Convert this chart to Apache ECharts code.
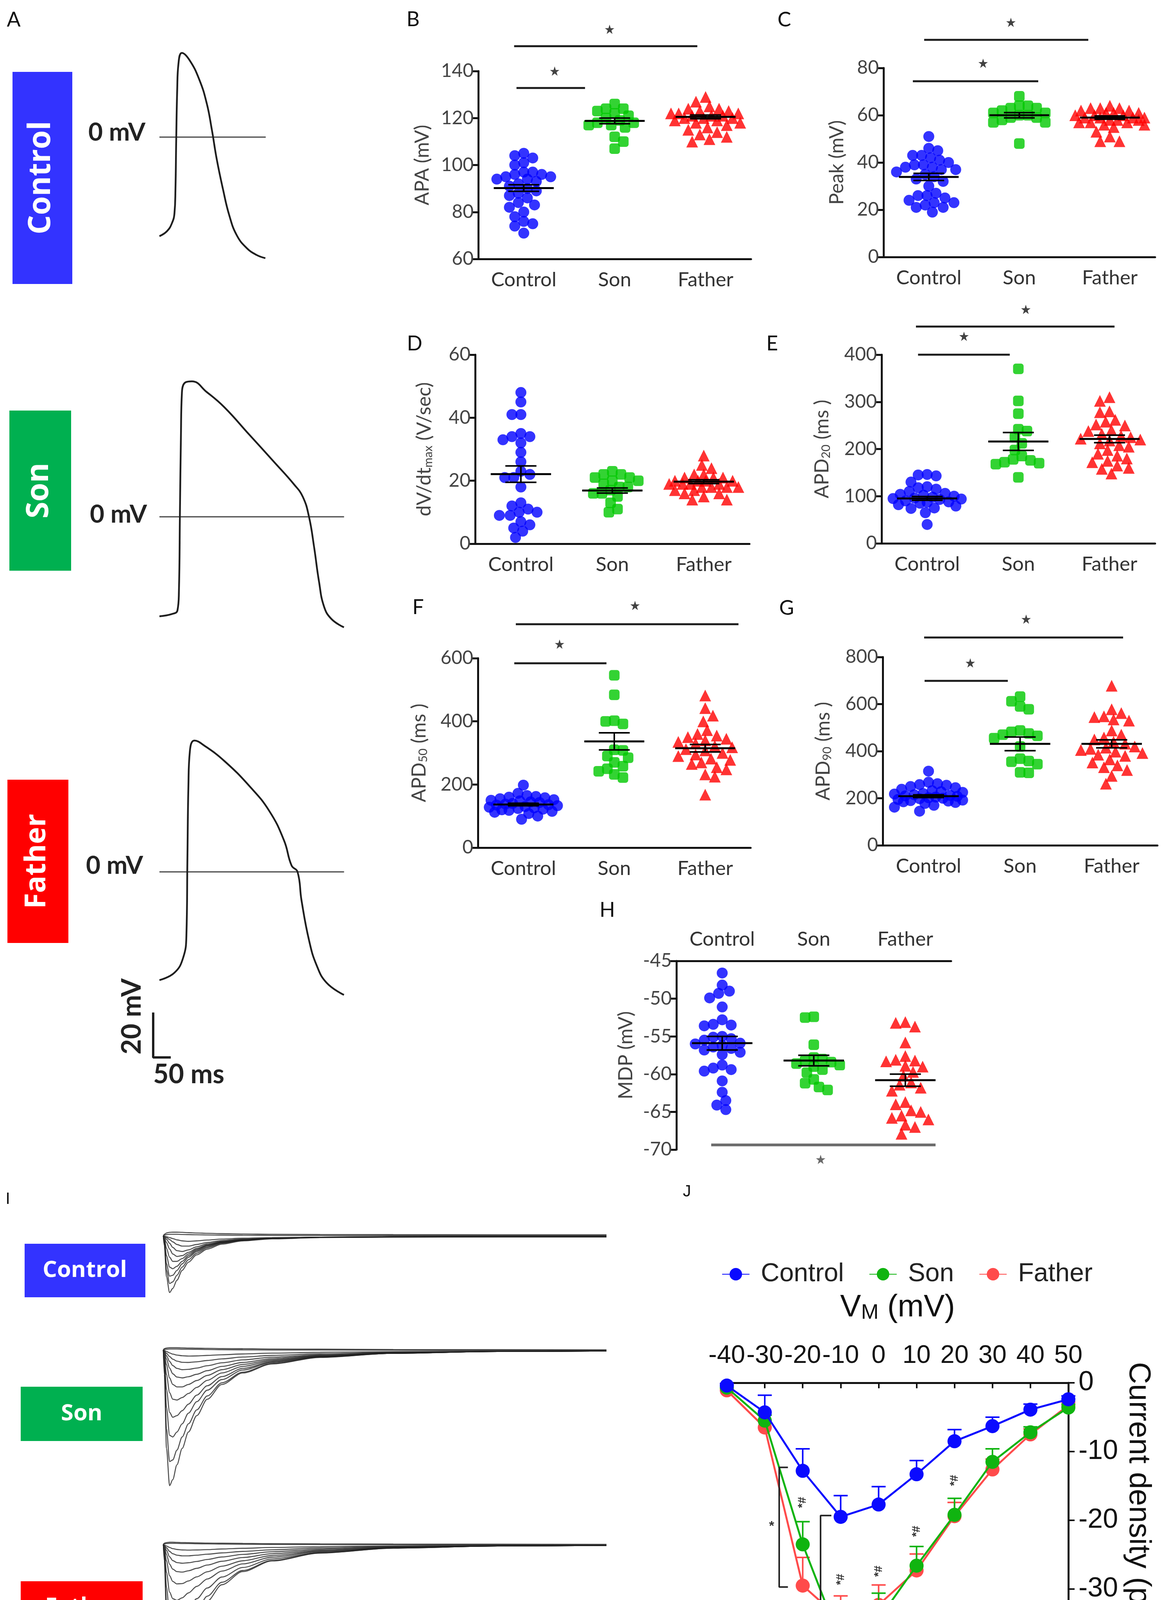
<!DOCTYPE html>
<html><head><meta charset="utf-8">
<script src="https://cdn.jsdelivr.net/npm/echarts@6/dist/echarts.min.js"></script>
<style>html,body{margin:0;padding:0;background:#fff}#c{width:2989px;height:4467px}</style>
</head><body><div id="c"></div><script>
// ---------------- DATA ----------------
const groups = ['Control', 'Son', 'Father'];
// B: APA (mV)
const apaControl = [105,104,103,101,100,97,97,96,96,95,95,94,94,93,92,91,90,89,88,87,86,84,83,82,80,78,76,75,74,71];
const apaSon = [126,124,124,123,122,121,120,119,118,118,117,117,116,112,110,107];
const apaFather = [129,127,125,124,124,123,123,122,122,122,121,121,121,120,120,120,119,119,118,118,117,116,115,114,113,112,111,110];
const apaMean = [90.2,118.8,120.5]; const apaSem = [1.4,1.2,0.8];
// C: Peak (mV)
const peakControl = [51,46,45,43,43,42,41,40,39,39,38,38,37,37,36,35,34,33,32,30,27,26,26,25,24,23,23,22,21,21,19];
const peakSon = [68,64,64,63,63,62,61,61,60,60,59,59,58,57,57,48];
const peakFather = [64,63,63,63,62,62,61,61,61,60,60,60,59,59,59,59,58,58,58,57,57,57,56,56,55,53,51,49,49];
const peakMean = [33.9,60.0,59.0]; const peakSem = [1.5,1.1,0.7];
// D: dV/dt max (V/sec)
const dvdtControl = [48,45,41,41,35,34,34,33,32,29,26,23,22,21,21,18,13,12,11,10,10,9,9,7,6,5,4,2];
const dvdtSon = [23,22,22,21,21,20,20,19,18,18,17,16,16,15,13,11,10];
const dvdtFather = [28,25,24,22,22,21,21,21,20,20,20,20,19,19,19,19,18,18,18,18,17,17,16,16,15,14,14];
const dvdtMean = [22.1,16.9,19.7]; const dvdtSem = [2.6,0.8,0.6];
// E: APD20 (ms)
const apd20Control = [146,145,143,130,120,118,115,110,106,104,102,100,98,96,95,94,93,90,88,87,85,82,79,75,74,65,40];
const apd20Son = [370,302,275,242,238,225,212,198,185,178,176,172,170,168,140];
const apd20Father = [310,302,280,278,262,258,252,250,240,238,232,228,225,222,220,218,212,208,205,198,190,186,180,175,172,165,160,158,148];
const apd20Mean = [95.3,216,221.4]; const apd20Sem = [4,19,8];
// F: APD50 (ms)
const apd50Control = [198,172,165,162,160,158,155,152,150,148,145,143,140,138,136,135,133,130,128,126,124,122,120,118,115,112,108,100,90];
const apd50Son = [546,484,402,400,392,310,308,290,285,270,258,250,242,232,222];
const apd50Father = [482,442,418,400,372,360,355,350,345,340,335,330,322,318,312,308,300,295,290,282,278,270,265,255,248,232,225,168];
const apd50Mean = [136.6,336.6,315]; const apd50Sem = [4,27,12];
// G: APD90 (ms)
const apd90Control = [315,268,262,258,255,250,245,238,232,228,225,220,218,215,212,210,208,205,202,200,198,195,192,190,188,185,182,178,170,162,145];
const apd90Son = [632,612,590,578,488,482,475,470,465,455,420,368,358,355,345,310,308];
const apd90Father = [678,578,562,548,545,535,530,488,470,458,450,440,432,420,415,410,405,398,392,385,380,365,352,340,332,320,295,262];
const apd90Mean = [208.7,431,431]; const apd90Sem = [6,29,17];
// H: MDP (mV)
const mdpControl = [-46.6,-48.2,-49.0,-49.3,-49.9,-51.1,-52.8,-53.4,-53.5,-53.6,-55.0,-55.1,-55.3,-55.5,-55.9,-56.0,-56.2,-56.4,-56.6,-56.8,-57.1,-57.4,-58.8,-59.2,-59.4,-59.6,-60.9,-62.4,-63.5,-64.1,-64.7];
const mdpSon = [-52.4,-52.5,-56.1,-57.8,-58.0,-58.2,-58.4,-58.6,-58.8,-59.0,-59.4,-59.8,-60.7,-61.2,-61.7,-62.1];
const mdpFather = [-53.1,-53.2,-53.7,-55.8,-57.6,-58.1,-58.2,-58.3,-58.9,-59.0,-59.7,-60.2,-61.1,-61.4,-61.8,-62.2,-63.7,-64.0,-64.8,-65.0,-65.5,-65.8,-66.0,-66.7,-67.0,-67.9];
const mdpMean = [-55.9,-58.2,-60.8]; const mdpSem = [0.9,0.7,0.8];

// A: action potentials (ms, mV)
const apControlT = [0,21.4,35.6,42.7,45.5,47.7,50.5,54.0,63.8,85,113.3,134.6,148.8,162.9,180.7,198.4,219.7,248,276.4,301];
const apControlV = [-44.1,-41.9,-38.3,-33.9,-23.3,-1.1,21.1,32.6,37.5,34.4,25.6,14.9,3.4,-9.9,-23.3,-34.8,-43.7,-49.4,-52.5,-53.9];
const apSonT = [0,35.6,51.2,55.4,58.3,61.1,64,74.6,92.3,134.8,184.4,255.3,326.1,382.9,407.7,425.3,439.6,453.7,467.9,489.1,524.6];
const apSonV = [-44.3,-43.3,-41.7,-33.3,2.2,35.5,55.5,59.9,60.3,55.5,48.8,36.6,24.4,14.4,8.9,0,-13.3,-28.8,-39.9,-45.5,-49.2];
const apFatherT = [0,42.7,67.5,76.7,79.5,82.4,86.6,99.4,127.7,184.4,255.3,312,354.5,375.8,392.7,404,425.3,446.5,474.9,524.6];
const apFatherV = [-48.2,-44.9,-38.2,-28.2,5.0,38.3,53.8,58.5,56.2,49.4,38.3,27.2,13.9,2.8,0,-12.7,-30.4,-41.4,-49.3,-54.8];
const apScaleMV = 20, apScaleMs = 50;

// I: sodium current traces (ms, pA)
const tI = [0,0.5,1.5,3,4.5,6.5,9,12,16,21,28,38,52,75,110,160,212];
const iControl = [
 [0,-60,-250,-345,-320,-270,-210,-160,-115,-80,-50,-30,-18,-10,-6,-4,-3],
 [0,-50,-210,-290,-280,-240,-190,-145,-105,-72,-45,-28,-16,-9,-5,-3,-2],
 [0,-40,-170,-245,-240,-210,-170,-130,-95,-66,-42,-26,-15,-8,-4,-2,-2],
 [0,-30,-120,-190,-200,-185,-155,-120,-88,-60,-40,-25,-15,-8,-5,-3,-3],
 [0,-20,-75,-130,-155,-155,-138,-110,-82,-57,-38,-24,-14,-8,-5,-3,-4],
 [0,-12,-40,-80,-110,-125,-120,-100,-76,-54,-36,-23,-14,-9,-6,-4,-4],
 [0,-6,-20,-45,-70,-90,-95,-85,-66,-48,-33,-22,-14,-9,-6,-5,-5],
 [0,-3,-10,-22,-36,-52,-62,-62,-52,-40,-28,-19,-13,-9,-7,-6,-6],
 [0,-2,-5,-10,-16,-24,-30,-33,-30,-25,-19,-14,-10,-8,-7,-6,-6],
 [0,5,8,10,10,10,9,8,7,6,5,4,3,3,2,2,2],
 [0,10,18,22,23,23,22,20,18,16,14,12,10,9,8,7,7]
];
const iSon = [
 [0,-150,-600,-827,-790,-700,-600,-500,-400,-300,-210,-140,-85,-45,-20,-8,-5],
 [0,-120,-480,-680,-670,-610,-530,-450,-365,-280,-200,-135,-82,-44,-20,-8,-5],
 [0,-90,-350,-520,-530,-500,-450,-385,-315,-245,-180,-122,-76,-42,-20,-9,-5],
 [0,-60,-240,-380,-410,-400,-370,-330,-275,-218,-162,-112,-72,-40,-19,-9,-6],
 [0,-40,-150,-260,-300,-305,-290,-265,-228,-185,-140,-100,-66,-38,-19,-9,-6],
 [0,-25,-90,-170,-210,-225,-225,-210,-186,-155,-120,-88,-60,-36,-18,-9,-6],
 [0,-15,-55,-110,-145,-165,-170,-163,-148,-126,-100,-76,-53,-33,-17,-9,-6],
 [0,-10,-35,-70,-95,-112,-120,-118,-110,-96,-78,-60,-44,-29,-16,-9,-6],
 [0,-6,-20,-40,-56,-68,-75,-76,-72,-64,-54,-43,-33,-23,-14,-8,-6],
 [0,-3,-9,-18,-25,-31,-35,-37,-36,-33,-29,-24,-19,-14,-10,-7,-6],
 [0,3,5,6,6,6,5,5,4,3,2,1,0,0,-1,-2,-3],
 [0,8,12,14,14,14,13,12,11,10,9,8,6,5,3,2,1]
];
const iFather = [
 [0,-100,-450,-740,-814,-760,-660,-560,-450,-345,-245,-165,-100,-52,-22,-9,-5],
 [0,-80,-350,-580,-640,-620,-560,-485,-400,-315,-230,-158,-97,-51,-22,-9,-5],
 [0,-60,-260,-430,-480,-475,-440,-390,-330,-265,-198,-140,-88,-48,-21,-9,-5],
 [0,-40,-170,-290,-330,-340,-325,-295,-255,-210,-162,-118,-77,-43,-20,-9,-5],
 [0,-25,-100,-190,-225,-240,-238,-222,-197,-166,-132,-99,-67,-39,-19,-9,-5],
 [0,-15,-60,-120,-150,-165,-168,-160,-145,-125,-102,-79,-56,-34,-17,-8,-5],
 [0,-10,-35,-75,-98,-110,-114,-111,-103,-91,-76,-60,-44,-28,-15,-8,-5],
 [0,-6,-20,-42,-56,-65,-69,-69,-65,-59,-51,-42,-32,-21,-12,-7,-5],
 [0,-3,-9,-18,-25,-30,-33,-34,-33,-31,-27,-23,-18,-13,-9,-6,-5],
 [0,4,6,7,7,7,6,6,5,4,3,2,1,0,-1,-2,-3],
 [0,8,12,14,14,13,12,11,10,9,8,7,5,4,3,2,1]
];
const iScalePA = 100, iScaleMs = 20;
// voltage protocol (ms, mV)
const protoT = [0,100,100,300,300,500,500,600];
const protoV = [-70,-70,-40,-40,50,50,-70,-70];
const protoSteps = [-40,-34,-29,-23,-17,-12,-6,-1,5,11,16,22,27,33,39,44,50];

// J: I-V relation
const ivV = [-40,-30,-20,-10,0,10,20,30,40,50];
const ivControl = [-0.4,-4.3,-12.8,-19.5,-17.7,-13.3,-8.5,-6.3,-3.9,-2.4];
const ivSon = [-0.7,-5.5,-23.5,-37.7,-34.4,-26.6,-19.2,-11.5,-7.2,-3.6];
const ivFather = [-1.1,-6.5,-29.5,-34.4,-32.3,-27.3,-19.4,-12.6,-7.5,-3.3];
const ivControlErr = [0.3,2.5,3.2,3.1,2.6,2.0,1.7,1.3,0.8,0.5];
const ivSonErr = [0.3,0.8,3.3,4.6,3.8,2.8,2.4,1.9,0.8,0.5];
const ivFatherErr = [0.3,1.0,4.1,3.4,2.9,2.4,2.0,1.5,0.8,0.5];
const ivMarkV = [-20,-10,0,10,20];
const ivMarkI = [-17.4,-28.6,-27.4,-21.6,-14.2];

// ---------------- BUILD ----------------
const grid=[], xAxis=[], yAxis=[], series=[];
const addG = g => (grid.push(g), grid.length-1);
const addX = a => (xAxis.push(a), xAxis.length-1);
const addY = a => (yAxis.push(a), yAxis.length-1);
const GP = 'Lato', AR = 'Liberation Sans';
const colC = '#0000FF', colS = '#00C800', colF = '#FF0000';
const starPath = 'path://M50,0L61.8,35.1L98.5,35.1L68.8,56.8L80.2,91.9L50,70.2L19.8,91.9L31.2,56.8L1.5,35.1L38.2,35.1Z';

function swarm(values, cat, pxY, pxX, D, maxOff){
  const order = values.map((v,i)=>i).sort((a,b)=>values[b]-values[a]);
  const placed=[], out=[]; const step=D*0.2;
  for(const i of order){
    const y=values[i]*pxY; let best=0, bestScore=-1, done=false;
    for(let k=0;k<=Math.ceil(maxOff/step)&&!done;k++){
      const c = k===0?[0]:(placed.length%2?[-k*step,k*step]:[k*step,-k*step]);
      for(const dx of c){
        let m=Infinity; for(const p of placed){const d=Math.hypot(p[0]-dx,p[1]-y); if(d<m)m=d;}
        if(m>=D){best=dx;done=true;break;}
        if(m>bestScore){bestScore=m;best=dx;}
      }
    }
    placed.push([best,y]); out.push([cat+best/pxX, values[i]]);
  }
  return out;
}

const axCol='#111';
const rich = (fs)=>({a:{fontSize:fs,fontFamily:GP,color:'#444'}, s:{fontSize:Math.round(fs*0.62),fontFamily:GP,color:'#444',verticalAlign:'bottom',lineHeight:Math.round(fs*0.55)}});
const panels = [
 {d:[apaControl,apaSon,apaFather], m:apaMean, s:apaSem, b:{left:1224,top:182,width:698,height:481}, min:60,max:140,step:20, name:'{a|APA (mV)}', gap:118,
  sig:[{x:[-0.106,1.909],y:150.6,st:[0.944,157.8]},{x:[-0.08,0.674],y:132.8,st:[0.34,140]}]},
 {d:[peakControl,peakSon,peakFather], m:peakMean, s:peakSem, b:{left:2261,top:174,width:695,height:484}, min:0,max:80,step:20, name:'{a|Peak (mV)}', gap:94,
  sig:[{x:[-0.051,1.762],y:91.9,st:[0.907,99.3]},{x:[-0.176,1.209],y:74.4,st:[0.6,82]}]},
 {d:[dvdtControl,dvdtSon,dvdtFather], m:dvdtMean, s:dvdtSem, b:{left:1216,top:908,width:702,height:484}, min:0,max:60,step:20, name:'{a|dV/dt}{s|max}{a| (V/sec)}', gap:105, sig:[]},
 {d:[apd20Control,apd20Son,apd20Father], m:apd20Mean, s:apd20Sem, b:{left:2256,top:908,width:700,height:483}, min:0,max:400,step:100, name:'{a|APD}{s|20}{a| (ms )}', gap:127,
  sig:[{x:[-0.123,2.055],y:459.6,st:[1.082,496]},{x:[-0.1,0.906],y:400,st:[0.404,439]}]},
 {d:[apd50Control,apd50Son,apd50Father], m:apd50Mean, s:apd50Sem, b:{left:1223,top:1685,width:698,height:485}, min:0,max:600,step:200, name:'{a|APD}{s|50}{a| (ms )}', gap:125,
  sig:[{x:[-0.083,2.366],y:707.6,st:[1.228,767]},{x:[-0.1,0.914],y:584,st:[0.398,644.5]}]},
 {d:[apd90Control,apd90Son,apd90Father], m:apd90Mean, s:apd90Sem, b:{left:2259,top:1682,width:703,height:482}, min:0,max:800,step:200, name:'{a|APD}{s|90}{a| (ms )}', gap:127,
  sig:[{x:[-0.048,2.125],y:883,st:[1.066,961]},{x:[-0.043,0.866],y:698.8,st:[0.456,775]}]},
 {d:[mdpControl,mdpSon,mdpFather], m:mdpMean, s:mdpSem, b:{left:1731,top:2460,width:703,height:483}, min:-70,max:-45,step:5, name:'{a|MDP (mV)}', gap:104, top:true,
  sig:[{x:[-0.12,2.33],y:-69.38,st:[1.075,-71.3],gray:true}]}
];
const sym = [{s:'circle',c:colC,z:28},{s:'roundRect',c:colS,z:27},{s:'triangle',c:colF,z:30}];

panels.forEach((p,pi)=>{
  const g = addG(p.b);
  addX({gridIndex:g, type:'category', data:groups, position:p.top?'top':'bottom',
    axisLine:{onZero:false, lineStyle:{color:axCol,width:5}},
    axisTick:{alignWithLabel:true, length:14, lineStyle:{color:axCol,width:5}},
    axisLabel:{fontFamily:GP, fontSize:51, color:'#333', margin:p.top?30:28}, splitLine:{show:false}});
  const xv = addX({gridIndex:g, type:'value', min:-0.5, max:2.5, show:false});
  const yv = addY({gridIndex:g, type:'value', min:p.min, max:p.max, interval:p.step,
    axisLine:{show:true, onZero:false, lineStyle:{color:axCol,width:5}},
    axisTick:{show:true, length:16, lineStyle:{color:axCol,width:5}},
    axisLabel:{fontFamily:GP, fontSize:48, color:'#444', margin:12, showMinLabel:true, showMaxLabel:true}, splitLine:{show:false},
    name:p.name, nameLocation:'middle', nameGap:p.gap, nameTextStyle:{rich:rich(50)}});
  const pxY = p.b.height/(p.max-p.min), pxX = p.b.width/3;
  p.d.forEach((vals,gi)=>{
    series.push({type:'scatter', name:'p'+pi+groups[gi], xAxisIndex:xv, yAxisIndex:yv, symbol:sym[gi].s, symbolSize:sym[gi].z,
      itemStyle:{color:sym[gi].c}, data:swarm(vals,gi,pxY,pxX,sym[gi].z*0.82,0.37*pxX), z:2, silent:true});
  });
  series.push({type:'custom', xAxisIndex:xv, yAxisIndex:yv, z:5, silent:true,
    data:p.m.map((m,i)=>[i,m,p.s[i]]),
    renderItem:(params,api)=>{
      const c=api.value(0), m=api.value(1), s=api.value(2);
      const L=(x1,y1,x2,y2,w)=>{const a=api.coord([x1,y1]), b=api.coord([x2,y2]); return {type:'line', shape:{x1:a[0],y1:a[1],x2:b[0],y2:b[1]}, style:{stroke:'#000',lineWidth:w}};};
      return {type:'group', children:[L(c-0.33,m,c+0.33,m,5),L(c,m-s,c,m+s,4),L(c-0.17,m+s,c+0.17,m+s,4),L(c-0.17,m-s,c+0.17,m-s,4)]};
    }});
  p.sig.forEach(sg=>{
    series.push({type:'line', xAxisIndex:xv, yAxisIndex:yv, clip:false, silent:true, symbol:'none',
      lineStyle:{color:sg.gray?'#6b6b6b':'#1a1a1a', width:sg.gray?7:5}, data:[[sg.x[0],sg.y],[sg.x[1],sg.y]]});
    series.push({type:'scatter', xAxisIndex:xv, yAxisIndex:yv, clip:false, silent:true, symbol:starPath, symbolSize:24,
      itemStyle:{color:sg.gray?'#444':'#111'}, data:[sg.st]});
  });
});

// A: action potentials
function hiddenPanel(box, xmin, xmax, ymin, ymax){
  const g=addG(box);
  const x=addX({gridIndex:g,type:'value',min:xmin,max:xmax,show:false});
  const y=addY({gridIndex:g,type:'value',min:ymin,max:ymax,show:false});
  return {x,y};
}
const zip=(a,b)=>a.map((t,i)=>[t,b[i]]);
[[apControlT,apControlV,{left:408,top:121,width:272,height:575},302,-60,40],
 [apSonT,apSonV,{left:408,top:920.5,width:472.5,height:747.5},525,-60,70],
 [apFatherT,apFatherV,{left:408,top:1829.5,width:472.5,height:747.5},525,-60,70]].forEach(a=>{
  const ax=hiddenPanel(a[2],0,a[3],a[4],a[5]);
  series.push({type:'line',xAxisIndex:ax.x,yAxisIndex:ax.y,symbol:'none',silent:true,data:[[0,0],[a[3],0]],lineStyle:{color:'#444',width:3}});
  series.push({type:'line',xAxisIndex:ax.x,yAxisIndex:ax.y,symbol:'none',silent:true,clip:false,smooth:0.45,data:zip(a[0],a[1]),lineStyle:{color:'#1e1e1e',width:4.5}});
});
{ const ax=hiddenPanel({left:392,top:2592,width:45,height:115},0,apScaleMs,0,apScaleMV);
  series.push({type:'line',xAxisIndex:ax.x,yAxisIndex:ax.y,symbol:'none',silent:true,clip:false,data:[[0,apScaleMV],[0,0],[apScaleMs,0]],lineStyle:{color:'#1e1e1e',width:6}}); }

// I: current traces
[[iControl,{left:418,top:3130.4,width:1134,height:201.6},-400],
 [iSon,{left:418,top:3422.4,width:1134,height:411.6},-900],
 [iFather,{left:418,top:3920.4,width:1134,height:411.6},-900]].forEach(a=>{
  const ax=hiddenPanel(a[1],0,212,a[2],80);
  a[0].forEach(tr=>series.push({type:'line',xAxisIndex:ax.x,yAxisIndex:ax.y,symbol:'none',silent:true,clip:false,smooth:0.3,smoothMonotone:'x',
    data:zip(tI,tr),lineStyle:{color:'#222',width:2.6,opacity:0.8}}));
});
{ const ax=hiddenPanel({left:378,top:4310,width:107,height:42},0,iScaleMs,0,iScalePA);
  series.push({type:'line',xAxisIndex:ax.x,yAxisIndex:ax.y,symbol:'none',silent:true,clip:false,data:[[0,iScalePA],[0,0],[iScaleMs,0]],lineStyle:{color:'#555',width:3}}); }
{ const ax=hiddenPanel({left:1315,top:4227,width:252,height:203},0,600,-70,50);
  series.push({type:'line',xAxisIndex:ax.x,yAxisIndex:ax.y,symbol:'none',silent:true,clip:false,data:zip(protoT,protoV),lineStyle:{color:'#222',width:5}});
  series.push({type:'custom',xAxisIndex:ax.x,yAxisIndex:ax.y,silent:true,clip:false,data:protoSteps.map(v=>[400,v]),
    renderItem:(p,api)=>{const a=api.coord([300,api.value(1)]), b=api.coord([500,api.value(1)]); return {type:'line',shape:{x1:a[0],y1:a[1],x2:b[0],y2:b[1]},style:{stroke:'#333',lineWidth:3}};}}); }

// J: I-V curve
const gJ = addG({left:1860,top:3540,width:874,height:704});
const xJ = addX({gridIndex:gJ,type:'value',min:-40,max:50,interval:10,position:'top',
  axisLine:{onZero:false,lineStyle:{color:'#111',width:5}}, axisTick:{inside:true,length:14,lineStyle:{color:'#111',width:4}},
  axisLabel:{fontFamily:AR,fontSize:65,color:'#111',margin:36,showMinLabel:true,showMaxLabel:true}, splitLine:{show:false},
  name:'{v|V}{m|M}{v| (mV)}', nameLocation:'middle', nameGap:152,
  nameTextStyle:{rich:{v:{fontFamily:AR,fontSize:80,color:'#111'},m:{fontFamily:AR,fontSize:54,color:'#111',verticalAlign:'bottom',lineHeight:40}}}});
const yJ = addY({gridIndex:gJ,type:'value',min:-40,max:0,interval:10,position:'right',
  axisLine:{show:true,onZero:false,lineStyle:{color:'#111',width:5}}, axisTick:{show:true,length:16,lineStyle:{color:'#111',width:4}},
  axisLabel:{fontFamily:AR,fontSize:70,color:'#111',margin:26,showMinLabel:true,showMaxLabel:true}, splitLine:{show:false},
  name:'Current density (pA/pF)', nameLocation:'middle', nameGap:140, nameRotate:-90,
  nameTextStyle:{fontFamily:AR,fontSize:78,color:'#111'}});
const ivCols = {Control:'#0A0AFF', Son:'#10B410', Father:'#FF4B4B'};
[['Father',ivFather,ivFatherErr],['Son',ivSon,ivSonErr],['Control',ivControl,ivControlErr]].forEach(([n,v,e],k)=>{
  const col=ivCols[n];
  series.push({type:'custom',xAxisIndex:xJ,yAxisIndex:yJ,silent:true,clip:false,z:2+k*2,data:ivV.map((x,i)=>[x,v[i],e[i]]),
    renderItem:(p,api)=>{const a=api.coord([api.value(0),api.value(1)]), b=api.coord([api.value(0),api.value(1)+api.value(2)]);
      return {type:'group',children:[{type:'line',shape:{x1:a[0],y1:a[1],x2:b[0],y2:b[1]},style:{stroke:col,lineWidth:4}},
        {type:'line',shape:{x1:b[0]-18,y1:b[1],x2:b[0]+18,y2:b[1]},style:{stroke:col,lineWidth:4}}]};}});
  series.push({type:'line',name:n,xAxisIndex:xJ,yAxisIndex:yJ,clip:false,z:3+k*2,symbol:'circle',symbolSize:36,
    data:zip(ivV,v),lineStyle:{color:col,width:5},itemStyle:{color:col}});
});
// brackets and significance marks in J
const bracket = (xi,xo,y1,y2)=>({type:'line',xAxisIndex:xJ,yAxisIndex:yJ,clip:false,silent:true,symbol:'none',z:10,
  data:[[xi,y1],[xo,y1],[xo,y2],[xi,y2]],lineStyle:{color:'#222',width:4}});
series.push(bracket(-23.9,-26.2,-12.3,-29.7));
series.push(bracket(-12.45,-15.3,-19.3,-38.3));
const textSeries = (pts, txt, rot, fs)=>({type:'custom',xAxisIndex:xJ,yAxisIndex:yJ,clip:false,silent:true,z:12,data:pts,
  renderItem:(p,api)=>{const c=api.coord([api.value(0),api.value(1)]); return {type:'text',x:c[0],y:c[1],rotation:rot,
    style:{text:txt,fontSize:fs,fontFamily:AR,fontWeight:'bold',fill:'#333',align:'center',verticalAlign:'middle'}};}});
series.push(textSeries(ivMarkV.map((x,i)=>[x,ivMarkI[i]]),'*#',Math.PI/2,30));
series.push(textSeries([[-28.2,-20.9]],'*',0,34));
series.push(textSeries([[-16.7,-33.9]],'#',0,30));

// ---------------- GRAPHIC (labels) ----------------
const T=(x,y,text,o={})=>({type:'text',x,y,rotation:o.rot||0,z:50,style:{text,fontFamily:o.ff||GP,fontSize:o.fs||48,fontWeight:o.fw||'normal',
  fill:o.fill||'#111',align:o.al||'center',verticalAlign:'middle'}});
const R=(x,y,w,h,fill)=>({type:'rect',shape:{x,y,width:w,height:h},style:{fill},z:40});
const graphic=[
  T(35,51,'A',{fs:52}),T(1057,50,'B',{fs:52}),T(2007,51,'C',{fs:52}),T(1061,880,'D',{fs:52}),T(1976,880,'E',{fs:52}),T(1070,1555,'F',{fs:52}),T(2013,1557,'G',{fs:52}),T(1554,2330,'H',{fs:52}),
  T(20,3070,'I',{ff:AR,fs:42}),T(1758,3051,'J',{ff:AR,fs:42}),
  R(32,184,153,543,'#3333FF'), T(106,455,'Control',{rot:Math.PI/2,fs:78,fw:'bold',fill:'#fff',ff:'Open Sans'}),
  R(24,1051,158,410,'#00B050'), T(101,1256,'Son',{rot:Math.PI/2,fs:78,fw:'bold',fill:'#fff',ff:'Open Sans'}),
  R(19,1996,156,418,'#FF0000'), T(95,2205,'Father',{rot:Math.PI/2,fs:74,fw:'bold',fill:'#fff',ff:'Open Sans'}),
  T(226,339,'0 mV',{al:'left',fs:64,fw:'bold',fill:'#222'}),
  T(230,1317,'0 mV',{al:'left',fs:64,fw:'bold',fill:'#222'}),
  T(220,2216,'0 mV',{al:'left',fs:64,fw:'bold',fill:'#222'}),
  T(338,2602,'20 mV',{rot:Math.PI/2,fs:68,fw:'bold',fill:'#222'}),
  T(392,2751,'50 ms',{al:'left',fs:68,fw:'bold',fill:'#222'}),
  R(63,3184,309,137,'#3333FF'), T(217,3252,'Control',{fs:58,fw:'bold',fill:'#fff',ff:'Open Sans'}),
  R(53,3550,312,139,'#00B050'), T(209,3619,'Son',{fs:58,fw:'bold',fill:'#fff',ff:'Open Sans'}),
  R(53,4048,312,135,'#FF0000'), T(209,4115,'Father',{fs:57,fw:'bold',fill:'#fff',ff:'Open Sans'}),
  T(340,4314,'100 pA',{rot:Math.PI/2,fs:52,fill:'#333'}),
  T(378,4390,'20 ms',{al:'left',fs:55,fill:'#333'}),
  T(1477,4177,'200 ms',{fs:46,fill:'#333'}),
  T(1563,4233,'50 mV',{al:'left',fs:46,fill:'#333'}),
  T(1547,4380,'-40 mV',{al:'left',fs:46,fill:'#333'}),
  T(1306,4431,'-70 mV',{al:'right',fs:46,fill:'#333'})
];

const chart = echarts.init(document.getElementById('c'), null, {renderer:'canvas', width:2989, height:4467});
chart.setOption({
  backgroundColor:'#fff', animation:false,
  grid, xAxis, yAxis, series, graphic,
  legend:{data:['Control','Son','Father'], left:1842, top:3224, itemWidth:70, itemHeight:40, itemGap:64,
    textStyle:{fontFamily:AR,fontSize:66,color:'#222',padding:[0,0,0,24]}, selectedMode:false}
});
</script></body></html>
